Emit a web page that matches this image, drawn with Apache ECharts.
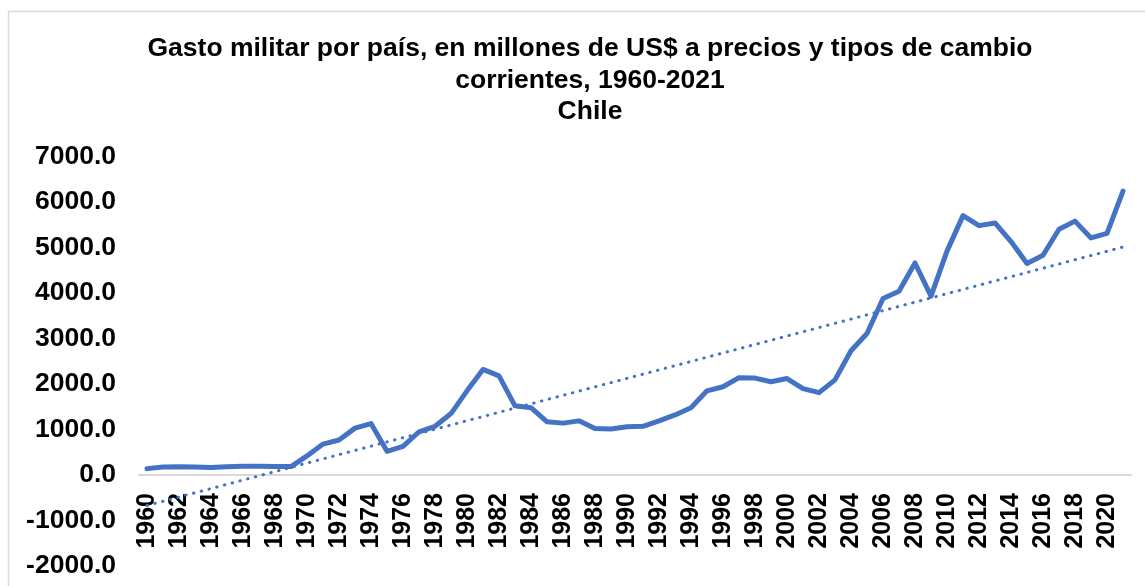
<!DOCTYPE html>
<html lang="es">
  <head>
    <meta charset="UTF-8" />
    <title>Gasto militar Chile</title>
    <script src="https://cdn.jsdelivr.net/npm/echarts@6/dist/echarts.min.js"></script>
    <style>
      html, body { margin: 0; padding: 0; background: #fff; }
      .echarts { width: 1145px; height: 586px; }
    </style>
  </head>
  <body>
    <div class="echarts"></div>
    <script>
      // años 1960-2021
      const years = []
      for (let y = 1960; y <= 2021; y++) years.push(String(y))

      // gasto militar, millones de US$ corrientes
      const gasto = [
        140, 175, 180, 175, 165, 180, 190, 190, 185, 185,
        420, 680, 770, 1030, 1130, 520, 630, 950, 1070, 1350,
        1850, 2320, 2180, 1520, 1480, 1170, 1140, 1190, 1020, 1010,
        1060, 1070, 1190, 1320, 1480, 1850, 1940, 2140, 2130, 2050,
        2120, 1900, 1810, 2090, 2730, 3110, 3880, 4040, 4660, 3930,
        4920, 5700, 5480, 5540, 5130, 4650, 4830, 5400, 5580, 5210,
        5310, 6240
      ]

      // línea de tendencia: extremos
      const tendInicio = -670
      const tendFin = 5010
      const tendencia = years.map((_, i) =>
        i === 0 ? tendInicio : i === years.length - 1 ? tendFin : null)

      const yTicks = { min: -2000, max: 7000, interval: 1000 }

      const font = 'Liberation Sans, Arial, sans-serif'
      const myCharts = echarts.init(document.querySelector('.echarts'))

      // el eje X cruza en 0: se sube desde el borde inferior del grid
      const gridTop = 156.5
      const gridBottom = 20
      const gridH = 586 - gridTop - gridBottom
      const xOffset = -gridH * (0 - yTicks.min) / (yTicks.max - yTicks.min)

      const option = {
        animation: false,
        title: {
          text: 'Gasto militar por país, en millones de US$ a precios y tipos de cambio\ncorrientes, 1960-2021\nChile',
          left: 585,
          top: 28,
          textAlign: 'center',
          textStyle: {
            fontFamily: font,
            fontWeight: 'bold',
            fontSize: 26.5,
            lineHeight: 31.5,
            color: '#000'
          }
        },
        graphic: [
          {
            type: 'rect',
            shape: { x: 8.5, y: 11.5, width: 1300, height: 700 },
            style: { fill: 'none', stroke: '#d9d9d9', lineWidth: 1.5 },
            silent: true
          }
        ],
        grid: { left: 139, right: 14, top: gridTop, bottom: gridBottom, outerBoundsMode: 'none' },
        xAxis: {
          type: 'category',
          data: years,
          boundaryGap: true,
          position: 'bottom',
          offset: xOffset,
          axisLine: { onZero: false, lineStyle: { color: '#d9d9d9', width: 2 } },
          axisTick: { show: false },
          axisLabel: {
            interval: 1,
            rotate: 90,
            margin: 18,
            fontFamily: font,
            fontWeight: 'bold',
            fontSize: 25,
            color: '#000'
          },
          splitLine: { show: false }
        },
        yAxis: {
          type: 'value',
          min: yTicks.min,
          max: yTicks.max,
          interval: yTicks.interval,
          axisLine: { show: false },
          axisTick: { show: false },
          splitLine: { show: false },
          axisLabel: {
            margin: 23,
            fontFamily: font,
            fontWeight: 'bold',
            fontSize: 26.5,
            color: '#000',
            formatter: v => v.toFixed(1)
          }
        },
        series: [
          {
            name: 'Gasto',
            type: 'line',
            data: gasto,
            symbol: 'none',
            lineStyle: { color: '#4472C4', width: 5, cap: 'round', join: 'round' }
          },
          {
            name: 'Tendencia',
            type: 'line',
            data: tendencia,
            connectNulls: true,
            symbol: 'none',
            lineStyle: { color: '#4472C4', width: 3, type: [0.5, 7.5], cap: 'round' }
          }
        ]
      }
      myCharts.setOption(option)
    </script>
  </body>
</html>
